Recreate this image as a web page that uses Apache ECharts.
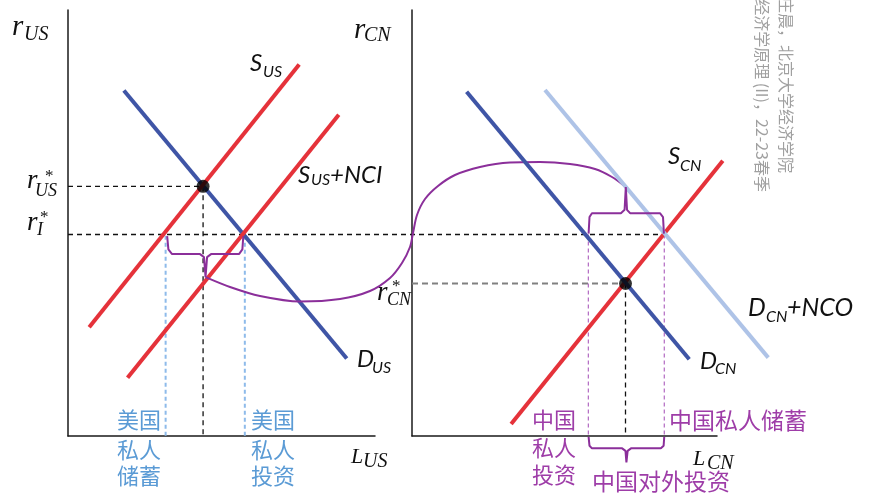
<!DOCTYPE html>
<html><head><meta charset="utf-8">
<script src="https://cdn.jsdelivr.net/npm/echarts@6.0.0/dist/echarts.min.js"></script>
<style>html,body{margin:0;padding:0;background:#fff}#c{width:869px;height:500px}</style>
</head><body><div id="c"></div><script>
// ---------- Left panel (US loanable funds), units: L 0..100, r 0..100 ----------
const sUS      = [[6.9, 25.5], [75.3, 87.2]];
const sUSNCI   = [[19.4, 13.7], [88.2, 75.4]];
const dUS      = [[18.2, 81.1], [90.8, 18.2]];
const eqUS     = [44.0, 58.6];          // r*_US equilibrium
const rIWorld  = 47.3;                  // r_I* (world rate), shared by both panels
const usSaving = 31.8;                  // US private saving at r_I*
const usInvest = 57.6;                  // US private investment at r_I*
const rILineEnd = 194.2;                // r_I* guide end (right panel saving), in left-panel units
const braceUS  = [[32.3,46.9],[32.7,43.8],[33.9,42.7],[43.0,42.7],[44.3,42.0],[44.8,37.3],
                  [45.3,42.0],[46.6,42.7],[55.7,42.7],[56.8,43.8],[57.1,46.9]];
// connector from US brace to China brace (left-panel units, extends across)
const flowArc  = [[44.8,37.3],[52.77,34.98],[62.54,32.86],[75.57,31.57],[88.60,32.16],[98.37,34.04],
                  [104.89,37.09],[108.79,40.61],[111.40,44.37],[112.38,47.65],[113.68,51.88],
                  [116.29,55.63],[120.52,58.69],[126.06,61.27],[134.20,63.15],[143.97,64.20],
                  [153.75,64.32],[163.52,63.85],[171.66,62.68],[177.20,60.80],[181.66,58.45]];

// ---------- Right panel (China loanable funds) ----------
const dCN      = [[17.9, 80.8], [90.9, 18.0]];
const dCNNCO   = [[43.6, 81.2], [116.8, 18.4]];
const sCN      = [[32.5, 2.8], [101.9, 64.6]];
const eqCN     = [70.0, 35.8];          // r*_CN equilibrium
const cnInvest = 57.8;                  // China private investment at r_I*
const cnSaving = 82.7;                  // China private saving at r_I*
const braceCNTop = [[57.9,47.5],[58.2,51.4],[59.0,52.3],[68.5,52.3],[69.7,53.1],[70.1,58.45],
                    [70.5,53.1],[71.5,52.3],[81.3,52.3],[82.3,51.4],[82.6,47.5]];
const braceCNBottom = [[57.9,-0.2],[58.2,-2.3],[59.0,-2.9],[68.9,-2.9],[70.0,-3.5],[70.3,-6.2],
                       [70.7,-3.5],[71.8,-2.9],[81.6,-2.9],[82.5,-2.3],[82.7,-0.2]];

const usLabels = ['美国', '私人', '储蓄'];
const usLabels2 = ['美国', '私人', '投资'];
const cnLabels = ['中国', '私人', '投资'];
const cnSaveLabel = '中国私人储蓄';
const cnOutLabel = '中国对外投资';
const watermark1 = '庄晨，北京大学经济学院';
const watermark2 = '经济学原理 (II)，22-23春季';

// ---------- layout ----------
const W = 869, H = 500;
const G0 = { left: 68, top: 10, width: 307, height: 426 };
const G1 = { left: 412, top: 10, width: 305, height: 426 };
const AX = 100; // both panels: 0..100 on each axis
// overlay grids covering the whole canvas, in the same units as each panel
function overlayRange(G) {
  const sx = G.width / AX, sy = G.height / AX;
  return {
    xmin: -G.left / sx, xmax: (W - G.left) / sx,
    ymin: -(H - G.top - G.height) / sy, ymax: AX + G.top / sy
  };
}
const O0 = overlayRange(G0), O1 = overlayRange(G1);

// ---------- styles ----------
const RED = '#E5323A', BLUE = '#3F55A6', LBLUE = '#AEC3E7', PURPLE = '#8B2F9A';
const PURPLE_T = '#9E3DA8', BLUE_T = '#5B9BD5', DOT_BLUE = '#8EBBEA';

function line(gi, data, color, width, dash, extra) {
  return Object.assign({
    type: 'line', xAxisIndex: gi, yAxisIndex: gi, data: data, symbol: 'none',
    silent: true, animation: false,
    lineStyle: { color: color, width: width, type: dash || 'solid', cap: 'butt' }
  }, extra || {});
}
function dot(gi, p) {
  return { type: 'scatter', xAxisIndex: gi, yAxisIndex: gi, data: [p], symbolSize: 13,
    itemStyle: { color: '#000' }, z: 10, silent: true, animation: false };
}
function axis(gi) {
  return { gridIndex: gi, type: 'value', min: 0, max: AX,
    axisLine: { show: true, onZero: false, lineStyle: { color: '#1a1a1a', width: 1.5 } },
    axisTick: { show: false }, axisLabel: { show: false }, splitLine: { show: false } };
}
function hidden(gi, min, max) {
  return { gridIndex: gi, type: 'value', min: min, max: max, show: false, splitLine: { show: false } };
}

const series = [
  // left panel
  line(0, [[0, eqUS[1]], eqUS, [eqUS[0], 0]], '#111', 1.3, [5, 4]),
  line(2, [[0, rIWorld], [rILineEnd, rIWorld]], '#111', 1.3, [5, 4]),
  line(0, [[usSaving, 47.0], [usSaving, 0]], DOT_BLUE, 2, [4, 3]),
  line(0, [[usInvest, 47.0], [usInvest, 0]], DOT_BLUE, 2, [4, 3]),
  line(0, dUS, BLUE, 4),
  line(0, sUS, RED, 4),
  line(0, sUSNCI, RED, 4),
  line(0, braceUS, PURPLE, 2),
  line(2, flowArc, PURPLE, 2, 'solid', { smooth: 0.3 }),
  dot(0, eqUS),
  // right panel
  line(1, [[0, eqCN[1]], eqCN], '#808080', 2, [6, 4]),
  line(1, [eqCN, [eqCN[0], 0]], '#111', 1.3, [5, 4]),
  line(1, [[cnInvest, rIWorld], [cnInvest, 0]], '#A24BB5', 1, [4, 3]),
  line(1, [[cnSaving, rIWorld], [cnSaving, 0]], '#A24BB5', 1, [4, 3]),
  line(3, sCN, RED, 4),
  line(1, dCN, BLUE, 4),
  line(3, dCNNCO, LBLUE, 4),
  line(1, braceCNTop, PURPLE, 2),
  line(3, braceCNBottom, PURPLE, 2),
  dot(1, eqCN)
];

// ---------- text ----------
const SERIF = "'Liberation Serif', 'DejaVu Serif', serif";
const SANS = "Lato, 'Noto Sans', sans-serif";
const CJK = "'Noto Sans CJK SC', sans-serif";
function t(s, x, y, size, family, italic, color, extra) {
  return Object.assign({ type: 'text', x: x, y: y, silent: true,
    style: { text: s, fontSize: size, fontFamily: family, fontStyle: italic ? 'italic' : 'normal',
      fill: color || '#111', align: 'left', verticalAlign: 'middle' } }, extra || {});
}
const g = [];
// r axes names
g.push(t('r', 12, 27, 29, SERIF, true), t('US', 24, 35, 20, SERIF, true));
g.push(t('r', 354, 30, 29, SERIF, true), t('CN', 364, 36, 20, SERIF, true));
// r*_US, r_I*, r*_CN
g.push(t('r', 27, 181, 27, SERIF, true), t('*', 45, 177, 17, SERIF, false), t('US', 35, 191, 18, SERIF, true));
g.push(t('r', 27, 223, 27, SERIF, true), t('*', 40, 218, 17, SERIF, false), t('I', 37, 230, 18, SERIF, true));
g.push(t('r', 377, 293, 27, SERIF, true), t('*', 392, 287, 17, SERIF, false), t('CN', 387, 300, 18, SERIF, true));
// L axes names
g.push(t('L', 351, 457, 22, SERIF, true), t('US', 363, 462, 20, SERIF, true));
g.push(t('L', 693, 459, 22, SERIF, true), t('CN', 707, 464, 20, SERIF, true));
// curve names
g.push(t('S', 250, 63, 24, SANS, true), t('US', 263, 71.5, 16, SANS, true));
g.push(t('S', 298, 175, 24, SANS, true), t('US', 311, 180, 16, SANS, true), t('+NCI', 330, 175, 24, SANS, true));
g.push(t('D', 357, 359, 24, SANS, true), t('US', 372, 367.5, 16, SANS, true));
g.push(t('S', 668, 156, 24, SANS, true), t('CN', 680, 166, 16, SANS, true));
g.push(t('D', 700, 361, 24, SANS, true), t('CN', 715, 369, 16, SANS, true));
g.push(t('D', 748, 307.5, 25, SANS, true), t('CN', 766, 317, 16, SANS, true), t('+NCO', 787, 307.5, 25, SANS, true));
// Chinese labels
const ys = [420, 450, 476];
usLabels.forEach((s, i) => g.push(t(s, 117, ys[i], 22, CJK, false, BLUE_T)));
usLabels2.forEach((s, i) => g.push(t(s, 251, ys[i], 22, CJK, false, BLUE_T)));
const ys2 = [420, 448, 475];
cnLabels.forEach((s, i) => g.push(t(s, 532, ys2[i], 22, CJK, false, PURPLE_T)));
g.push(t(cnSaveLabel, 669, 420, 23, CJK, false, PURPLE_T));
g.push(t(cnOutLabel, 592, 481, 23, CJK, false, PURPLE_T));
// watermark (vertical)
g.push(t(watermark1, 786, 173, 16, CJK, false, '#a0a0a0', { rotation: -Math.PI / 2 }));
g.push(t(watermark2, 762, 192, 16, CJK, false, '#a0a0a0', { rotation: -Math.PI / 2 }));
g.forEach(e => { if (e.rotation) e.style.align = 'right'; });

const chart = echarts.init(document.getElementById('c'), null, { renderer: 'canvas' });
chart.setOption({
  animation: false,
  backgroundColor: '#fff',
  grid: [
    G0, G1,
    { left: 0, top: 0, width: W, height: H },
    { left: 0, top: 0, width: W, height: H }
  ],
  xAxis: [axis(0), axis(1), hidden(2, O0.xmin, O0.xmax), hidden(3, O1.xmin, O1.xmax)],
  yAxis: [axis(0), axis(1), hidden(2, O0.ymin, O0.ymax), hidden(3, O1.ymin, O1.ymax)],
  series: series,
  graphic: { elements: g }
});
</script></body></html>
